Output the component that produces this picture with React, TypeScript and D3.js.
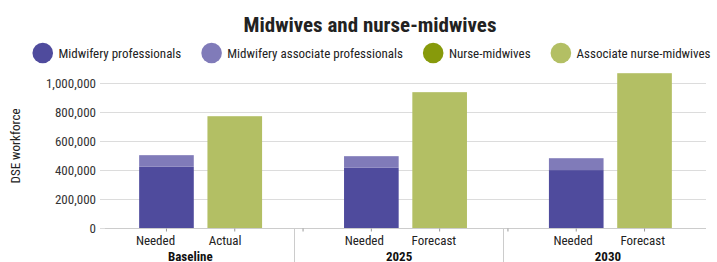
import React, { useEffect, useRef } from "react";
import * as d3 from "d3";

// Chart data
const categoryIds = ["base-needed", "base-actual", "gap-1", "y25-needed", "y25-forecast", "gap-2", "y30-needed", "y30-forecast"];
const categoryLabels = ["Needed", "Actual", "", "Needed", "Forecast", "", "Needed", "Forecast"];

const midwiferyProfessionals = [425000, 0, 0, 418000, 0, 0, 402000, 0];
const midwiferyAssociates = [80000, 0, 0, 80000, 0, 0, 82000, 0];
const nurseMidwives = [0, 0, 0, 0, 0, 0, 0, 0];
const associateNurseMidwives = [0, 774000, 0, 0, 940000, 0, 0, 1071000];

const seriesNames = ["Midwifery professionals", "Midwifery associate professionals", "Nurse-midwives", "Associate nurse-midwives"];
const seriesColors = ["#4f4b9d", "#807bb9", "#879a0b", "#b3bf64"];

const groupLabels = ["Baseline", "2025", "2030"];
const groupMembers = [
  ["base-needed", "base-actual"],
  ["y25-needed", "y25-forecast"],
  ["y30-needed", "y30-forecast"],
];
const groupSeparators = ["gap-1", "gap-2"];

const yTicks = [0, 200000, 400000, 600000, 800000, 1000000];

const FONT = "'Roboto Condensed', 'Liberation Sans Narrow', 'DejaVu Sans Condensed', Roboto, sans-serif";

const width = 717;
const height = 262;

const App: React.FC = () => {
  const svgRef = useRef<SVGSVGElement>(null);

  useEffect(() => {
    if (!svgRef.current) return;
    const svg = d3.select(svgRef.current);
    svg.selectAll("*").remove();

    const margin = { left: 105, right: 11, top: 69, bottom: 34 };
    const plotBottom = height - margin.bottom;

    const x = d3
      .scaleBand()
      .domain(categoryIds)
      .range([margin.left, width - margin.right])
      .paddingInner(0.2)
      .paddingOuter(0.5);

    // labels in the source sit on a slightly different spacing than the bars
    const xLabel = d3.scalePoint().domain(categoryIds).range([155.5, 642.7]);

    const y = d3.scaleLinear().domain([0, 1100000]).range([plotBottom + 0.3, margin.top]);
    const axisY = Math.round(y(0)) + 0.5;

    // Title
    svg
      .append("text")
      .attr("x", 370)
      .attr("y", 31.5)
      .attr("text-anchor", "middle")
      .attr("font-family", FONT)
      .attr("font-weight", "bold")
      .attr("font-size", "21px")
      .attr("fill", "#222")
      .text("Midwives and nurse-midwives");

    // Legend
    const legend = svg.append("g").attr("font-family", FONT).attr("font-size", "13px");
    const items = legend
      .selectAll("g")
      .data(seriesNames)
      .enter()
      .append("g");
    items
      .append("circle")
      .attr("r", 10.3)
      .attr("cx", 10.3)
      .attr("cy", 0)
      .attr("fill", (d, i) => seriesColors[i]);
    items
      .append("text")
      .attr("x", 26)
      .attr("dy", "0.35em")
      .attr("fill", "#222")
      .text((d) => d);
    let cursor = 0;
    const positions: number[] = [];
    items.each(function () {
      const t = d3.select(this).select("text").node() as SVGTextElement;
      positions.push(cursor);
      cursor += 26 + t.getComputedTextLength() + 20;
    });
    const totalWidth = cursor - 20;
    const legendLeft = 371.5 - totalWidth / 2;
    items.attr("transform", (d, i) => `translate(${legendLeft + positions[i]},53)`);

    // Grid lines
    svg
      .append("g")
      .selectAll("line")
      .data(yTicks.filter((t) => t > 0))
      .enter()
      .append("line")
      .attr("x1", margin.left)
      .attr("x2", width - margin.right)
      .attr("y1", (d) => Math.round(y(d)) + 0.5)
      .attr("y2", (d) => Math.round(y(d)) + 0.5)
      .attr("stroke", "#dcdcdc")
      .attr("stroke-width", 1);

    // Y axis ticks and labels
    const yAxis = svg.append("g").attr("font-family", FONT).attr("font-size", "13px");
    yAxis
      .selectAll("line")
      .data(yTicks)
      .enter()
      .append("line")
      .attr("x1", margin.left - 5)
      .attr("x2", margin.left)
      .attr("y1", (d) => Math.round(y(d)) + 0.5)
      .attr("y2", (d) => Math.round(y(d)) + 0.5)
      .attr("stroke", "#dcdcdc");
    yAxis
      .selectAll("text")
      .data(yTicks)
      .enter()
      .append("text")
      .attr("x", margin.left - 9)
      .attr("y", (d) => y(d))
      .attr("dy", "0.35em")
      .attr("text-anchor", "end")
      .attr("fill", "#333")
      .text((d) => d3.format(",")(d));

    svg
      .append("text")
      .attr("transform", `translate(20,146) rotate(-90)`)
      .attr("text-anchor", "middle")
      .attr("font-family", FONT)
      .attr("font-size", "13px")
      .attr("fill", "#222")
      .text("DSE workforce");

    // Stacked bars
    const rows = categoryIds.map((id, i) => ({
      id,
      s0: midwiferyProfessionals[i],
      s1: midwiferyAssociates[i],
      s2: nurseMidwives[i],
      s3: associateNurseMidwives[i],
    }));
    const stack = d3.stack<any>().keys(["s0", "s1", "s2", "s3"]);
    const stacked = stack(rows);

    svg
      .append("g")
      .selectAll("g")
      .data(stacked)
      .enter()
      .append("g")
      .attr("fill", (d, i) => seriesColors[i])
      .selectAll("rect")
      .data((d) => d.filter((p) => p[1] - p[0] > 0))
      .enter()
      .append("rect")
      .attr("x", (d) => x(d.data.id) || 0)
      .attr("width", x.bandwidth())
      .attr("y", (d) => y(d[1]))
      .attr("height", (d) => y(d[0]) - y(d[1]));

    // X axis line
    svg
      .append("line")
      .attr("x1", margin.left)
      .attr("x2", width - margin.right)
      .attr("y1", axisY)
      .attr("y2", axisY)
      .attr("stroke", "#cccccc");

    // Category ticks
    svg
      .append("g")
      .selectAll("line")
      .data(categoryIds)
      .enter()
      .append("line")
      .attr("x1", (d) => (x(d) || 0) + x.bandwidth() / 2)
      .attr("x2", (d) => (x(d) || 0) + x.bandwidth() / 2)
      .attr("y1", axisY)
      .attr("y2", axisY + 3)
      .attr("stroke", "#999");

    // Category labels
    svg
      .append("g")
      .attr("font-family", FONT)
      .attr("font-size", "13px")
      .selectAll("text")
      .data(categoryIds)
      .enter()
      .append("text")
      .attr("x", (d) => xLabel(d) || 0)
      .attr("y", 244.5)
      .attr("text-anchor", "middle")
      .attr("fill", "#222")
      .text((d, i) => categoryLabels[i]);

    // Group separators
    svg
      .append("g")
      .selectAll("line")
      .data(groupSeparators)
      .enter()
      .append("line")
      .attr("x1", (d) => Math.round(xLabel(d) || 0) - 0.5)
      .attr("x2", (d) => Math.round(xLabel(d) || 0) - 0.5)
      .attr("y1", axisY)
      .attr("y2", height)
      .attr("stroke", "#cccccc");

    // Group labels
    svg
      .append("g")
      .attr("font-family", FONT)
      .attr("font-size", "13px")
      .attr("font-weight", "bold")
      .selectAll("text")
      .data(groupLabels)
      .enter()
      .append("text")
      .attr("x", (d, i) => d3.mean(groupMembers[i], (m) => xLabel(m) || 0) || 0)
      .attr("y", 260.5)
      .attr("text-anchor", "middle")
      .attr("fill", "#111")
      .text((d) => d);
  }, []);

  return (
    <svg
      ref={svgRef}
      width={width}
      height={height}
      style={{ position: "absolute", left: 0, top: 0, background: "#fff" }}
    />
  );
};

export default App;
